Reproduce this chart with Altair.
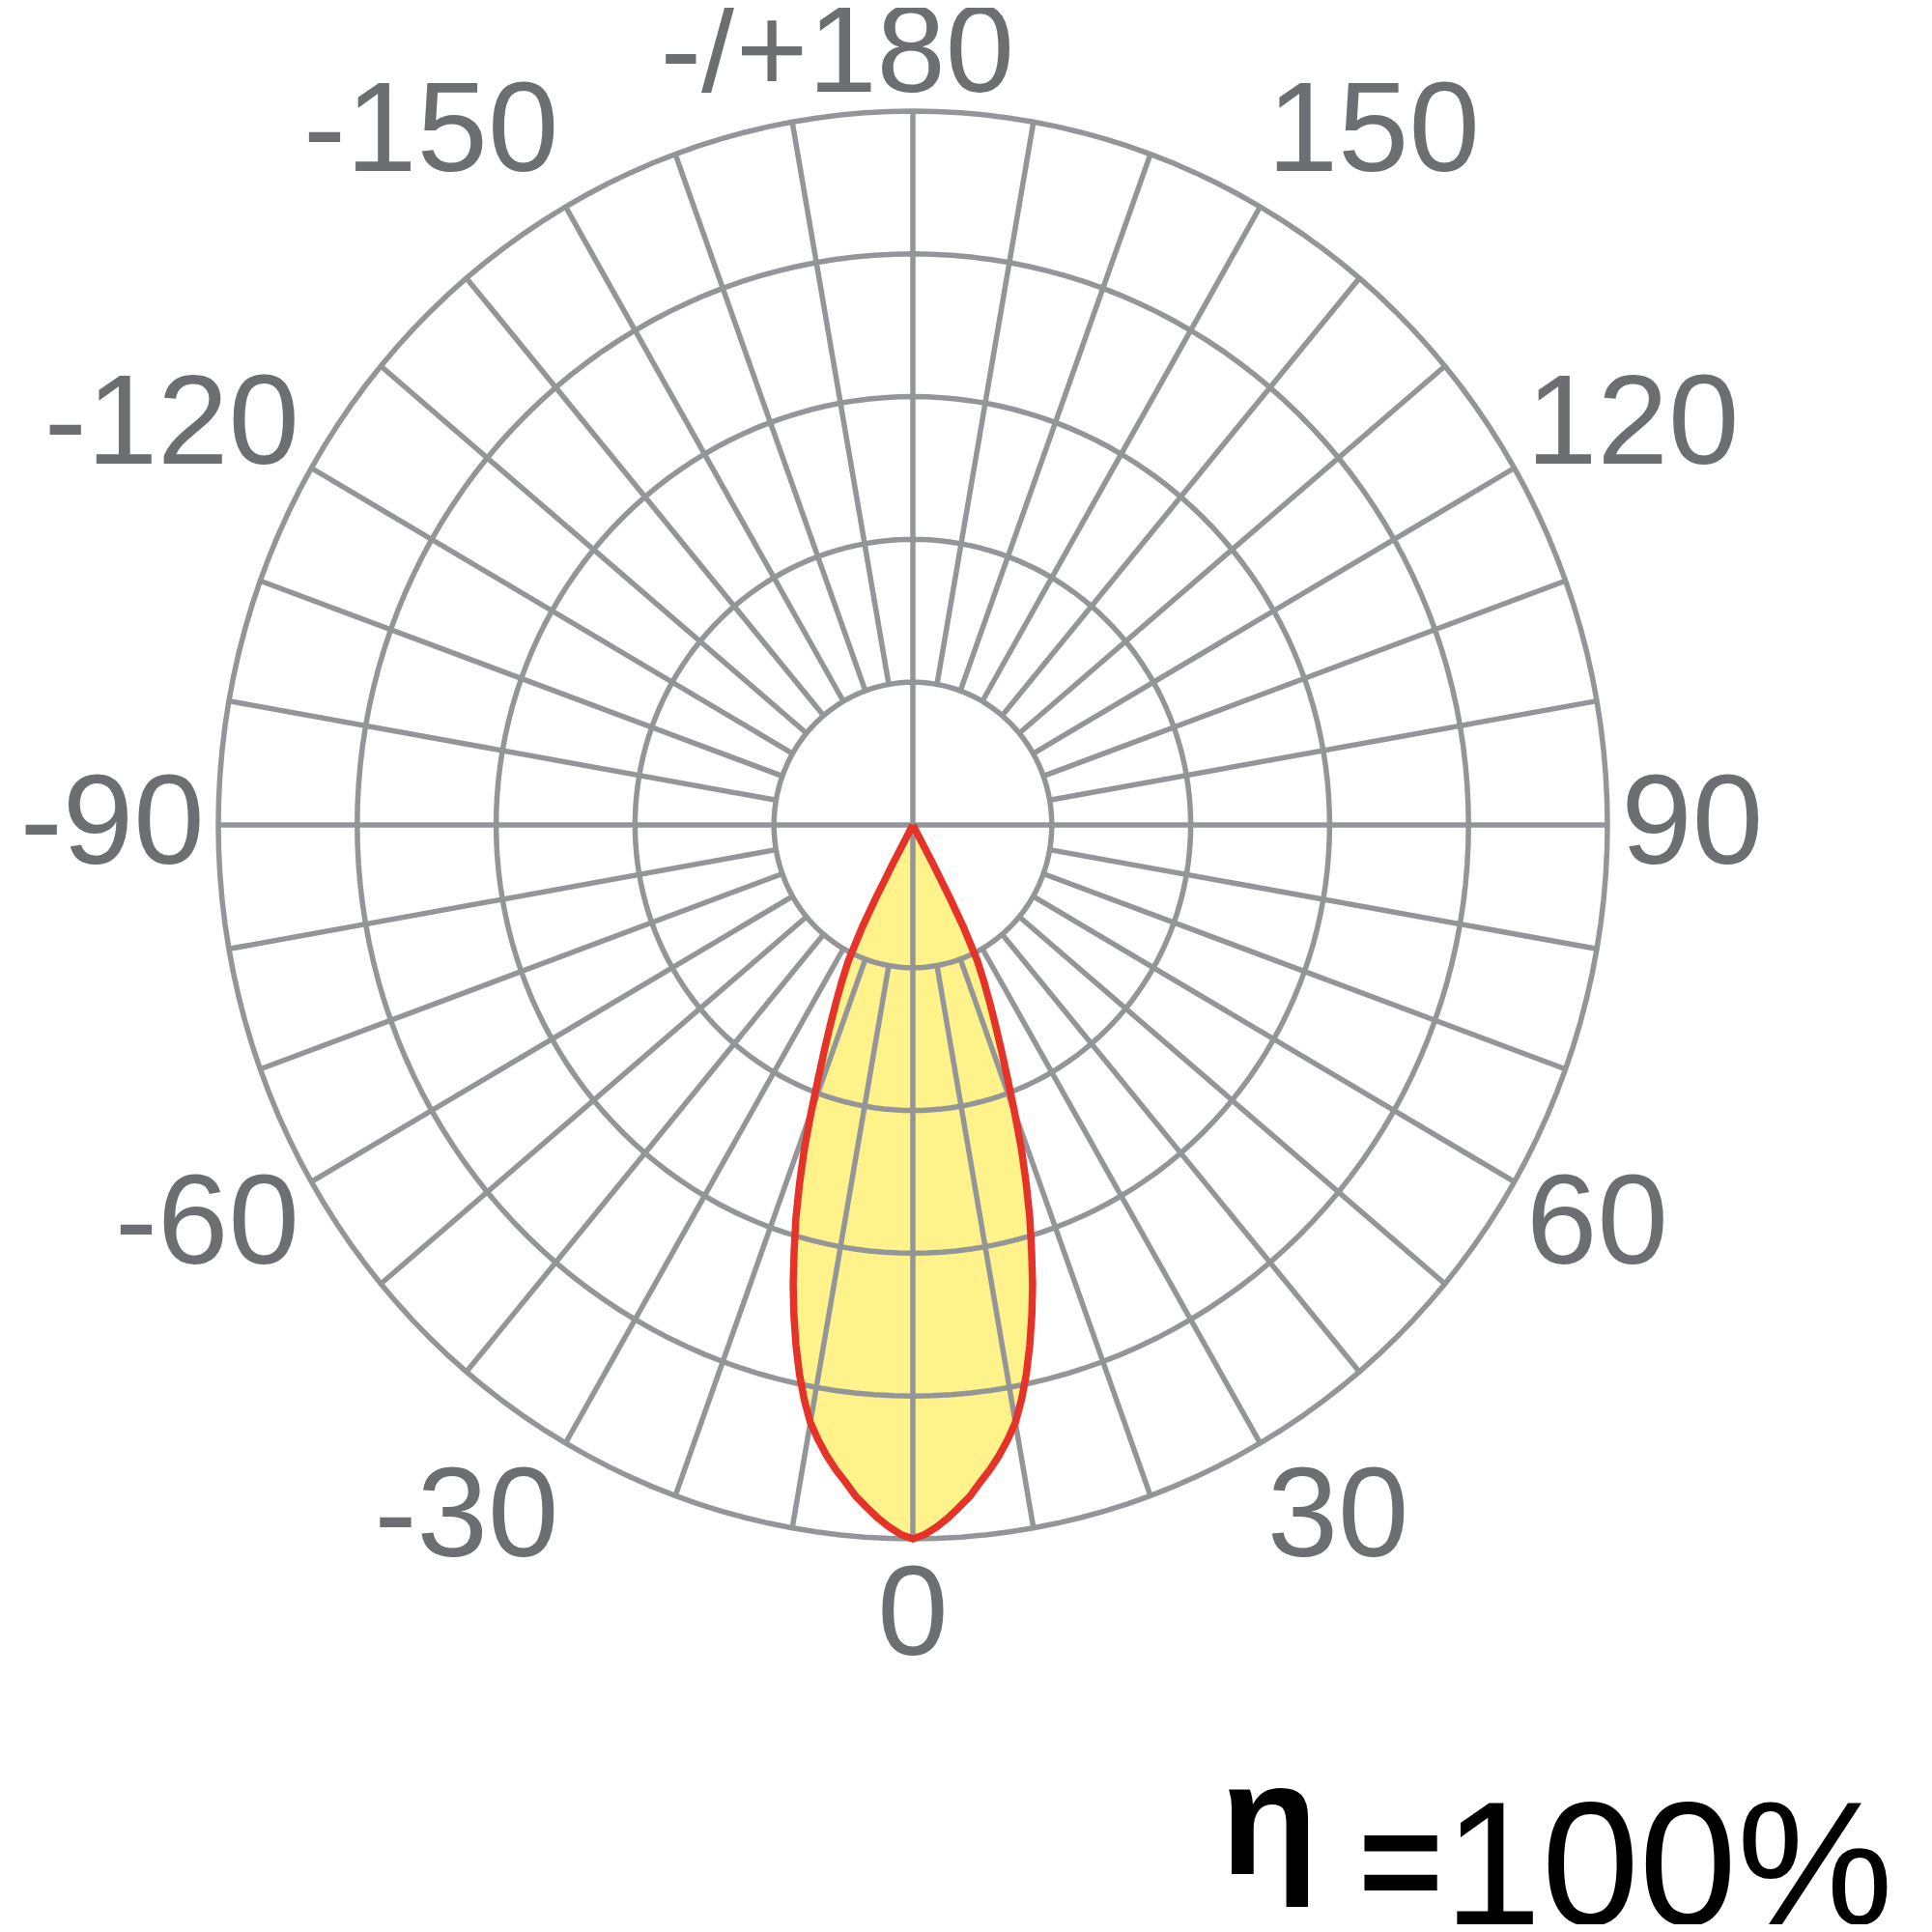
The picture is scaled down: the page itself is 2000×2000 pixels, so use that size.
import altair as alt
import pandas as pd

# ---------------- data ----------------
ring_values = [1, 2, 3, 4, 5]                 # concentric grid rings (outer = 5)
spoke_angles = list(range(0, 360, 10))        # radial grid lines every 10 deg

right_label_angles = [30, 60, 90, 120, 150]
right_label_texts = ["30", "60", "90", "120", "150"]
left_label_angles = [-30, -60, -90, -120, -150]
left_label_texts = ["-30", "-60", "-90", "-120", "-150"]
bottom_label_angles = [0]
bottom_label_texts = ["0"]
top_label_angles = [180]
top_label_texts = ["-/+180"]

# luminous intensity curve (relative, outer ring = 5), symmetric beam
lobe_angles = [0, 1, 2, 3, 4, 5, 6, 7, 8, 9, 10, 11, 12, 13, 14, 15, 16, 17, 18,
               19, 20, 21, 22, 23, 24, 25, 26, 27, 27.5, 28, 28.5]
lobe_values = [5.00, 4.97, 4.92, 4.86, 4.79, 4.72, 4.63, 4.55, 4.46, 4.36, 4.25,
               4.10, 3.93, 3.74, 3.54, 3.33, 3.10, 2.88, 2.64, 2.40, 2.14, 1.90,
               1.70, 1.52, 1.36, 1.21, 1.06, 0.80, 0.57, 0.30, 0.0]

eta_symbol = "η"
eta_equals = "="
eta_value = "100%"

# ---------------- tables ----------------
ring_angle_steps = list(range(0, 362, 2))
rings_df = pd.DataFrame(
    [{"ring": r, "a": a} for r in ring_values for a in ring_angle_steps]
)
spokes_df = pd.DataFrame({"a": spoke_angles})

full_angles = [-a for a in lobe_angles[::-1]] + lobe_angles[1:]
full_values = lobe_values[::-1] + lobe_values[1:]
lobe_df = pd.DataFrame({"a": full_angles, "v": full_values, "idx": range(len(full_angles))})

GRID = "#939598"
LABEL_COLOR = "#6d6e71"
FONT = "Liberation Sans, Arial, Helvetica, sans-serif"
LABEL_SIZE = 132

xs = alt.Scale(domain=[-6.516, 7.281], nice=False, zero=False)
ys = alt.Scale(domain=[-7.700, 5.724], nice=False, zero=False)


def X(f):
    return alt.X(f, type="quantitative", scale=xs, axis=None)


def Y(f):
    return alt.Y(f, type="quantitative", scale=ys, axis=None)


polar_x = "datum.r * sin(datum.a * PI / 180)"
polar_y = "-datum.r * cos(datum.a * PI / 180)"

lobe_fill = (
    alt.Chart(lobe_df)
    .transform_calculate(r="datum.v")
    .transform_calculate(px=polar_x, py=polar_y)
    .mark_line(fill="#fef38b", stroke="#fef38b", strokeWidth=0.5)
    .encode(x=X("px"), y=Y("py"), order=alt.Order("idx:Q"))
)

rings = (
    alt.Chart(rings_df)
    .transform_calculate(r="datum.ring")
    .transform_calculate(px=polar_x, py=polar_y)
    .mark_line(stroke=GRID, strokeWidth=5.5)
    .encode(x=X("px"), y=Y("py"), detail="ring:N", order=alt.Order("a:Q"))
)

spokes = (
    alt.Chart(spokes_df)
    .transform_calculate(r0="datum.a % 90 == 0 ? 0 : 1", r1="5")
    .transform_calculate(
        x0="datum.r0 * sin(datum.a * PI / 180)",
        y0="-datum.r0 * cos(datum.a * PI / 180)",
        x1="datum.r1 * sin(datum.a * PI / 180)",
        y1="-datum.r1 * cos(datum.a * PI / 180)",
    )
    .mark_rule(stroke=GRID, strokeWidth=5.5)
    .encode(x=X("x0"), y=Y("y0"), x2="x1:Q", y2="y1:Q")
)

lobe_line = (
    alt.Chart(lobe_df)
    .transform_calculate(r="datum.v")
    .transform_calculate(px=polar_x, py=polar_y)
    .mark_line(stroke="#e63329", strokeWidth=7.5, strokeJoin="miter")
    .encode(x=X("px"), y=Y("py"), order=alt.Order("idx:Q"))
)


def label_layer(angles, texts, rx, ry, align, dx=0, dy=0, size=LABEL_SIZE):
    df = pd.DataFrame({"a": angles, "t": texts})
    return (
        alt.Chart(df)
        .transform_calculate(
            px=f"{rx} * sin(datum.a * PI / 180)",
            py=f"-{ry} * cos(datum.a * PI / 180)",
        )
        .mark_text(
            font=FONT, fontSize=size, color=LABEL_COLOR,
            align=align, baseline="middle", dx=dx, dy=dy,
        )
        .encode(x=X("px"), y=Y("py"), text="t:N")
    )


right_labels = label_layer(right_label_angles, right_label_texts, 5.1, 5.6, "left")
left_labels = label_layer(left_label_angles, left_label_texts, 5.1, 5.6, "right")
bottom_labels = label_layer(bottom_label_angles, bottom_label_texts, 5.54, 5.54, "center")
top_labels = label_layer(top_label_angles, top_label_texts, 5.45, 5.45, "right",
                         dx=105, dy=9, size=128)

eta_df = pd.DataFrame({"t": [eta_symbol], "x": [2.566], "y": [-7.347]})
eq_df = pd.DataFrame({"t": [eta_equals], "x": [3.512], "y": [-7.605]})
val_df = pd.DataFrame({"t": [eta_value], "x": [7.058], "y": [-7.70]})

eta = alt.Chart(eta_df).mark_text(
    font=FONT, fontSize=165, fontWeight="bold", color="black",
    align="center", baseline="alphabetic",
).encode(x=X("x"), y=Y("y"), text="t:N")
eq = alt.Chart(eq_df).mark_text(
    font=FONT, fontSize=150, fontWeight="bold", color="black",
    align="center", baseline="alphabetic",
).encode(x=X("x"), y=Y("y"), text="t:N")
val = alt.Chart(val_df).mark_text(
    font=FONT, fontSize=182, color="black",
    align="right", baseline="alphabetic",
).encode(x=X("x"), y=Y("y"), text="t:N")

chart = (
    alt.layer(lobe_fill, rings, spokes, lobe_line,
              right_labels, left_labels, bottom_labels, top_labels,
              eta, eq, val)
    .properties(width=1984, height=1984, padding=0, autosize="none", background="white")
    .configure_view(stroke=None)
)

chart.save("out.html", embed_options={"renderer": "svg", "actions": False})
